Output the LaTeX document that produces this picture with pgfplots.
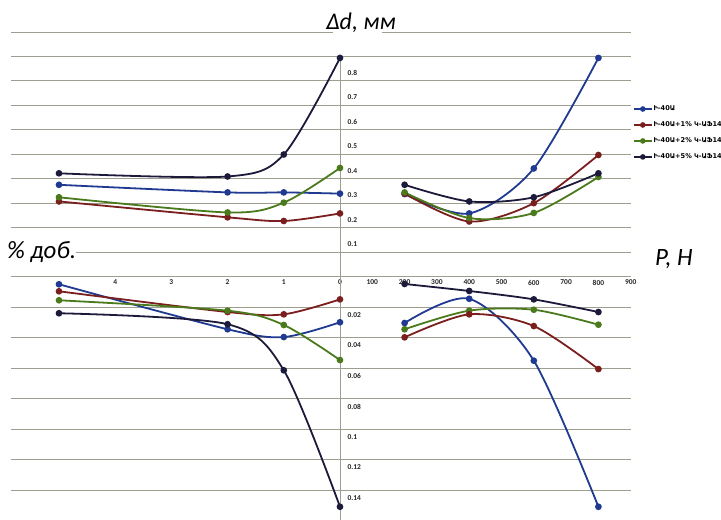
\documentclass[border=0pt]{standalone}
\usepackage{pgfplots}
\pgfplotsset{compat=1.18}
\usepackage{fontspec}
\setmainfont{Carlito}
\newfontfamily\armfont{DejaVu Sans}

\definecolor{cBlue}{HTML}{1F3A90}
\definecolor{cRed}{HTML}{7B1E1E}
\definecolor{cGreen}{HTML}{4A7A1C}
\definecolor{cBlack}{HTML}{1C1A3A}
\definecolor{gridc}{HTML}{9E9E8E}

\pgfplotsset{
  panel/.style={scale only axis, width=620bp, clip=false,
    axis lines=middle, axis line style={-, gridc, line width=0.8bp},
    major tick length=0pt,
    hide obscured x ticks=false, hide obscured y ticks=false,
    /pgf/number format/assume math mode=true,
    tick label style={font=\bfseries\fontsize{7.5}{8}\selectfont, text=black!85},
    grid style={gridc, line width=0.9bp}},
  % left panels: % additive, reversed; right panels: load P
  pctx/.style={x dir=reverse, xmin=-5.178, xmax=5.854},
  loadx/.style={xmin=-1018.6, xmax=900.9},
  ser/.style={color=#1, mark=*, mark size=2.4bp, line width=1.8bp, smooth, mark options={solid}},
}

\begin{document}
\begin{tikzpicture}
\useasboundingbox (0,0) rectangle (721bp,520bp);

% ---- top left: dd vs % ----
\begin{axis}[panel, pctx, at={(11bp,243.5bp)}, anchor=south west, height=244.5bp,
  ymin=0, ymax=1, ymajorgrids,
  xtick={0,1,2,3,4},
  ytick={0.1,0.2,0.3,0.4,0.5,0.6,0.7,0.8,0.9,1.0},
  yticklabels={0.1,0.2,0.3,0.4,0.5,0.6,0.7,0.8,,},
  yticklabel style={anchor=west, xshift=4bp, yshift=8bp},
  y axis line style={draw=none}]
\draw[gridc, line width=0.8bp] (axis cs:0,0) -- (axis cs:0,0.906);
\addplot[ser=cBlue]  coordinates {(5,0.375) (2,0.344) (1,0.344) (0,0.339)};
\addplot[ser=cRed]   coordinates {(5,0.307) (2,0.242) (1,0.227) (0,0.258)};
\addplot[ser=cGreen] coordinates {(5,0.324) (2,0.262) (1,0.302) (0,0.444)};
\addplot[ser=cBlack] coordinates {(5,0.422) (2,0.409) (1,0.499) (0,0.894)};
\end{axis}

% ---- top right: dd vs P ----
\begin{axis}[panel, loadx, at={(11bp,243.5bp)}, anchor=south west, height=244.5bp,
  ymin=0, ymax=1, ytick=\empty,
  xtick={100,200,300,400,500,600,700,800,900},
  axis line style={draw=none},
  legend cell align=left,
  legend style={draw=none, fill=none, at={(1.003,0.703)}, anchor=north west,
    font=\armfont\bfseries\fontsize{6.6}{7}\selectfont, row sep=7.6bp,
    inner xsep=0pt, inner ysep=0pt, nodes={inner sep=1bp}},
  legend image code/.code={\draw[#1, line width=1.5bp, mark size=2bp, mark repeat=2, mark phase=2]
    plot coordinates {(0bp,0bp) (9bp,0bp) (18bp,0bp)};}]
\addplot[ser=cBlue]  coordinates {(200,0.337) (400,0.258) (600,0.442) (800,0.894)};
\addlegendentry{Ի-40Ա}
\addplot[ser=cRed]   coordinates {(200,0.339) (400,0.225) (600,0.300) (800,0.497)};
\addlegendentry{Ի-40Ա+1\% Կ-ԱՖ14}
\addplot[ser=cGreen] coordinates {(200,0.344) (400,0.239) (600,0.260) (800,0.407)};
\addlegendentry{Ի-40Ա+2\% Կ-ԱՖ14}
\addplot[ser=cBlack] coordinates {(200,0.375) (400,0.307) (600,0.324) (800,0.422)};
\addlegendentry{Ի-40Ա+5\% Կ-ԱՖ14}
\end{axis}

% ---- bottom left: weight loss vs % ----
\begin{axis}[panel, pctx, at={(11bp,243.5bp)}, anchor=north west, height=244bp,
  y dir=reverse, ymin=0, ymax=0.16, ymajorgrids,
  xtick=\empty,
  ytick={0.02,0.04,0.06,0.08,0.1,0.12,0.14},
  yticklabels={0.02,0.04,0.06,0.08,0.1,0.12,0.14},
  yticklabel style={anchor=west, xshift=4bp, yshift=-8bp},
  x axis line style={draw=none}]
\addplot[ser=cBlue]  coordinates {(5,0.0051) (2,0.0346) (1,0.0397) (0,0.0300)};
\addplot[ser=cRed]   coordinates {(5,0.0097) (2,0.0233) (1,0.0248) (0,0.0150)};
\addplot[ser=cGreen] coordinates {(5,0.0156) (2,0.0224) (1,0.0318) (0,0.0548)};
\addplot[ser=cBlack] coordinates {(5,0.0241) (2,0.0313) (1,0.0615) (0,0.1510)};
\end{axis}

% ---- bottom right: weight loss vs P ----
\begin{axis}[panel, loadx, at={(11bp,243.5bp)}, anchor=north west, height=244bp,
  y dir=reverse, ymin=0, ymax=0.16,
  xtick=\empty, ytick=\empty,
  axis line style={draw=none}]
\addplot[ser=cBlack] coordinates {(200,0.0049) (400,0.0095) (600,0.0150) (800,0.0233)};
\addplot[ser=cBlue]  coordinates {(200,0.0305) (400,0.0146) (600,0.0552) (800,0.1510)};
\addplot[ser=cGreen] coordinates {(200,0.0346) (400,0.0224) (600,0.0218) (800,0.0316)};
\addplot[ser=cRed]   coordinates {(200,0.0399) (400,0.0248) (600,0.0325) (800,0.0607)};
\end{axis}

% titles
\fill[white] (333bp,485bp) rectangle (382bp,490.5bp);
\node[anchor=base, inner sep=0pt, font=\itshape\fontsize{24}{26}\selectfont] at (361bp,490.7bp) {Δd, мм};
\node[anchor=base west, inner sep=0pt, fill=white, font=\itshape\fontsize{25}{27}\selectfont] at (7bp,261.7bp) {\% доб.};
\node[anchor=base west, inner sep=0pt, font=\itshape\fontsize{25}{27}\selectfont] at (655bp,254bp) {P, H};
\end{tikzpicture}
\end{document}
